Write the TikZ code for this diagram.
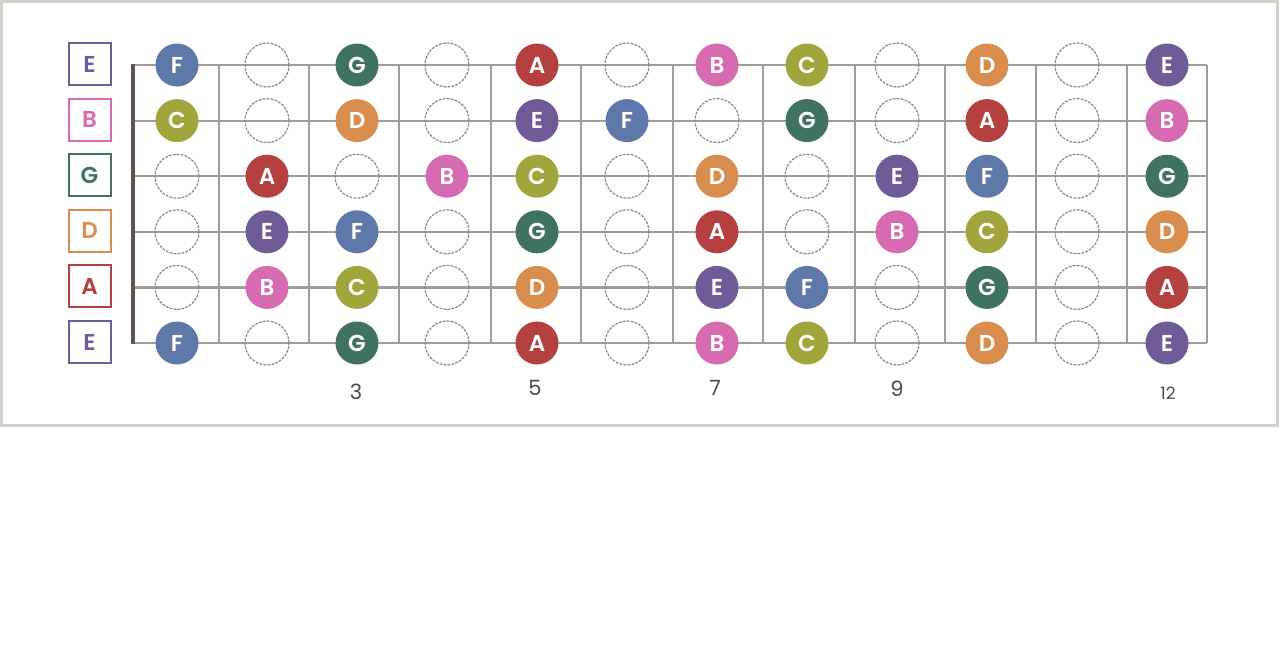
\documentclass[tikz,border=0pt]{standalone}
\usepackage{fontspec}
\setmainfont{Liberation Sans}
\newfontfamily\notefont{Poppins SemiBold}
\newfontfamily\angkafont{Poppins}

\definecolor{noteE}{HTML}{6F5B98}
\definecolor{noteF}{HTML}{5E78AA}
\definecolor{noteG}{HTML}{3F7263}
\definecolor{noteA}{HTML}{B4413F}
\definecolor{noteB}{HTML}{D66BB0}
\definecolor{noteC}{HTML}{A2A43C}
\definecolor{noteD}{HTML}{D98D4E}
\definecolor{senarc}{HTML}{A39C96}
\definecolor{nutc}{HTML}{5E554E}
\definecolor{kosongc}{HTML}{8C8782}
\definecolor{bingkaic}{HTML}{D6D1CB}
\definecolor{angkac}{HTML}{4D4845}

\begin{document}
\begin{tikzpicture}[x=0.5pt,y=-0.5pt,
    senar/.style={senarc,line width=1.1pt},
    nada/.style={circle,fill=note#1,text=white,minimum size=21.5pt,inner sep=0pt,
        text height=8pt,text depth=0pt,font=\notefont\fontsize{11.5}{12}\selectfont},
    kosong/.style={circle,draw=kosongc,line width=0.6pt,dash pattern=on 1.4pt off 0.6pt,
        minimum size=22pt,inner sep=0pt},
    kotak/.style={rectangle,draw=note#1,text=note#1,fill=white,line width=1pt,
        minimum size=21pt,inner sep=0pt,text height=8pt,text depth=0pt,
        font=\notefont\fontsize{11.5}{12}\selectfont},
    nomor/.style={text=angkac,inner sep=0pt,font=\angkafont\fontsize{10.5}{11}\selectfont}]
    \useasboundingbox (0,0) rectangle (1281,648);

    % Bingkai
    \draw[bingkaic,line width=1.5pt] (1.5,1.5) rectangle (1277,425.5);

    % Senar dan fret
    \foreach \r in {0,...,5} \draw[senar] (133,{65+55.6*\r}) -- (1207,{65+55.6*\r});
    \foreach \x in {219,309,399,491,581,673,763,855,945,1036,1127,1207}
        \draw[senar] (\x,65) -- (\x,343);
    \draw[nutc,line width=1.7pt] (133,64) -- (133,344);

    % Nama senar
    \foreach \s [count=\r] in {E,B,G,D,A,E}
        \node[kotak=\s] (s\r) at (89.5,{64+55.6*(\r-1)}) {\s};

    % Nada pada tiap fret
    \def\kosongtanda{-}
    \foreach \baris [count=\r] in {{F,-,G,-,A,-,B,C,-,D,-,E},{C,-,D,-,E,F,-,G,-,A,-,B},
            {-,A,-,B,C,-,D,-,E,F,-,G},{-,E,F,-,G,-,A,-,B,C,-,D},
            {-,B,C,-,D,-,E,F,-,G,-,A},{F,-,G,-,A,-,B,C,-,D,-,E}}
        \foreach \n [count=\f] in \baris {
            \ifx\n\kosongtanda
                \node[kosong] (n\r-\f) at ({177+90*(\f-1)},{65+55.6*(\r-1)}) {};
            \else
                \node[nada=\n] (n\r-\f) at ({177+90*(\f-1)},{65+55.6*(\r-1)}) {\n};
            \fi
        }

    % Nomor fret
    \node[nomor] (f3) at (356,392) {3};
    \node[nomor] (f5) at (535,388) {5};
    \node[nomor] (f7) at (715,388) {7};
    \node[nomor] (f9) at (897,389) {9};
    \node[nomor,font=\angkafont\fontsize{8.5}{9}\selectfont] (f12) at (1168,393) {12};
\end{tikzpicture}
\end{document}
